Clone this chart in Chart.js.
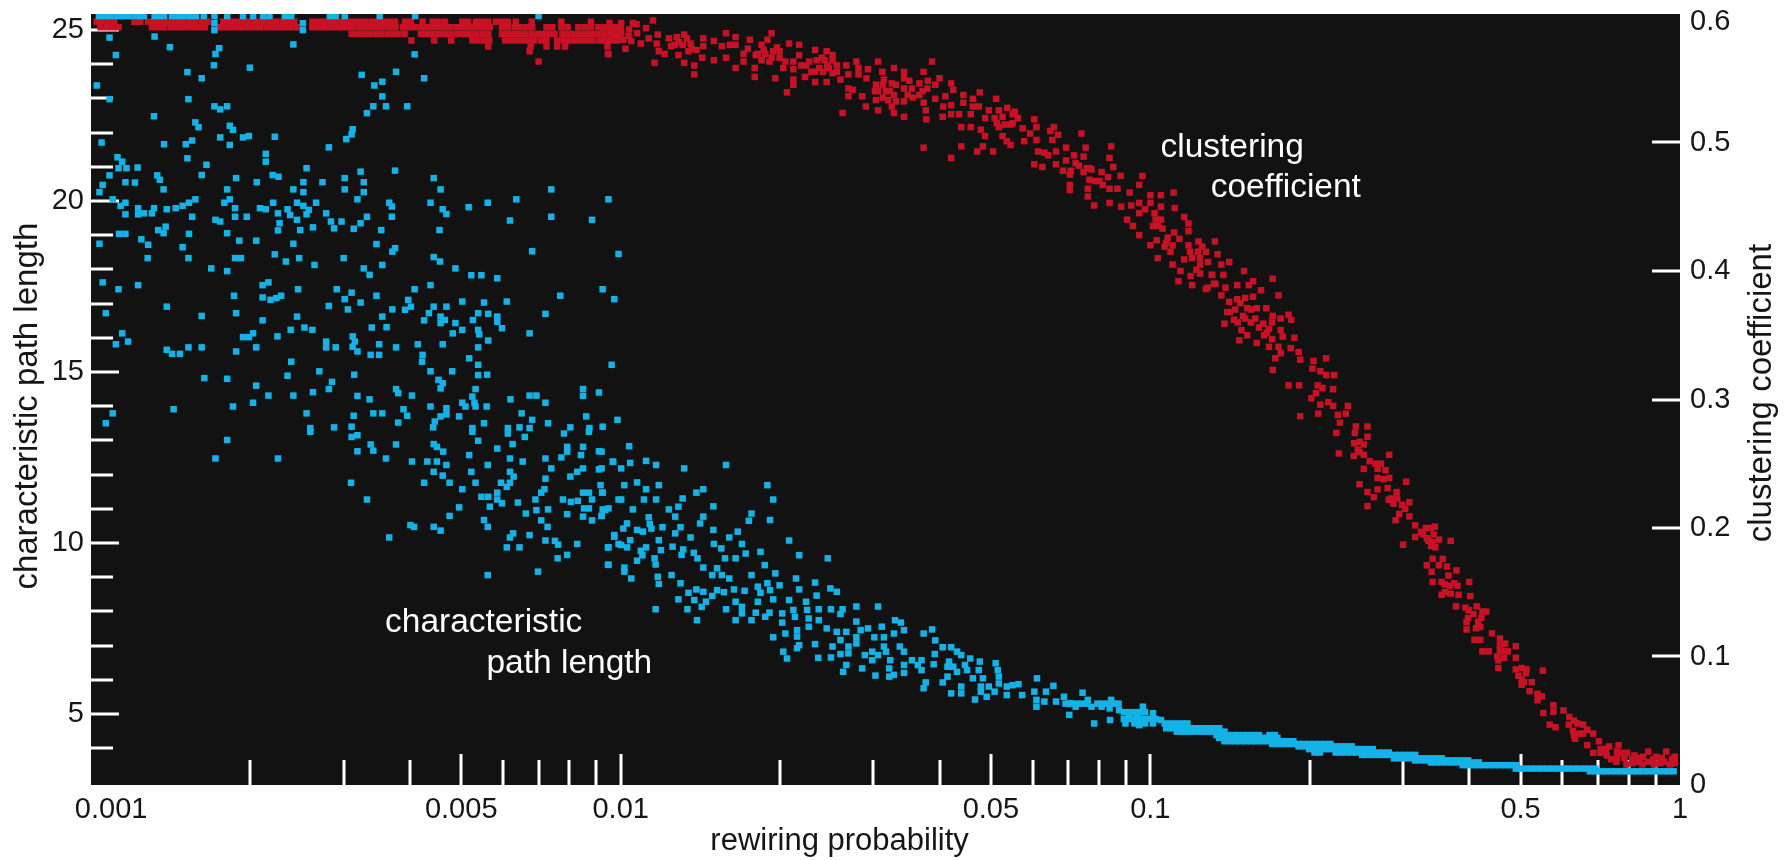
<!DOCTYPE html>
<html><head><meta charset="utf-8">
<script src="https://cdn.jsdelivr.net/npm/chart.js@4/dist/chart.umd.min.js"></script>
<style>html,body{margin:0;padding:0;background:#fff}canvas{display:block}</style>
</head><body>
<canvas id="c" width="1785" height="860"></canvas>
<script>
// First number = log10(rewiring probability).
const xLabelled = [0.001,0.005,0.01,0.05,0.1,0.5,1];
const xMinor = [0.002,0.003,0.004,0.006,0.007,0.008,0.009,0.02,0.03,0.04,0.06,0.07,0.08,0.09,0.2,0.3,0.4,0.6,0.7,0.8,0.9];
const pathTicks = [4,5,6,7,8,9,10,11,12,13,14,15,16,17,18,19,20,21,22,23,24,25];
const pathLabelled = [5,10,15,20,25];
const clusterTicks = [0,0.1,0.2,0.3,0.4,0.5,0.6];

// characteristic path length: rows [value, [log10 p ...]]
const pathRows = [
[25.41,[-2.985,-2.974,-2.963,-2.951,-2.94,-2.93,-2.918,-2.907,-2.9,-2.88,-2.87,-2.862,-2.847,-2.836,-2.825,-2.813,-2.802,-2.787,-2.767,-2.743,-2.713,-2.694,-2.675,-2.663,-2.634,-2.622,-2.549,-2.538,-2.521,-2.455,-2.388,-2.155]],
[25.2,[-2.767,-2.6]],[25.0,[-2.767,-2.6]],
[5.3,[-1.16,-1.15,-1.14,-1.13,-1.12,-1.1,-1.09,-1.08,-1.07,-1.06]],
[5.05,[-1.05,-1.04,-1.03,-1.02,-1.01]],
[4.85,[-1.05,-1.04,-1.03,-1.02,-1.01,-1.0,-.99]],
[4.72,[-1.03,-1.02,-1.01,-.973,-.962,-.951,-.94,-.93]],
[4.58,[-.97,-.96,-.95,-.94,-.93,-.92,-.91,-.9,-.89,-.88,-.87]],
[4.48,[-.95,-.94,-.93,-.92,-.91,-.9,-.89,-.88,-.87,-.86]],
[4.38,[-.875,-.865,-.855,-.845,-.835,-.825,-.815,-.805,-.795,-.775,-.765]],
[4.3,[-.87,-.86,-.85,-.84,-.83,-.82,-.81,-.8,-.79,-.78,-.77,-.76]],
[4.2,[-.86,-.85,-.84,-.83,-.82,-.81,-.8,-.79,-.78,-.77,-.76,-.75,-.74,-.73]],
[4.12,[-.77,-.76,-.75,-.74,-.73,-.72,-.71,-.7,-.69,-.68,-.67,-.66]],
[4.05,[-.72,-.71,-.7,-.69,-.68,-.67,-.66,-.65,-.64,-.63,-.62]],
[3.97,[-.7,-.69,-.68,-.67,-.66,-.65,-.64,-.63,-.62,-.61,-.6,-.59,-.58]],
[3.87,[-.69,-.68,-.65,-.64,-.63,-.62,-.61,-.6,-.59,-.58,-.57,-.56,-.55]],
[3.8,[-.6,-.59,-.58,-.57,-.56,-.55,-.54,-.53,-.52,-.51,-.5]],
[3.7,[-.54,-.53,-.52,-.51,-.5,-.49,-.48,-.47,-.46,-.45]],
[3.64,[-.5,-.49,-.48,-.47,-.46,-.45,-.44,-.43,-.42,-.41,-.4]],
[3.58,[-.47,-.46,-.45,-.44,-.43,-.42,-.41,-.4,-.39,-.38]],
[3.5,[-.41,-.4,-.39,-.38,-.37,-.36,-.35,-.34,-.33,-.32,-.31]],
[3.4,[-.31,-.3,-.29,-.28,-.27,-.26,-.25,-.24,-.23,-.22,-.21,-.2,-.19,-.18,-.17,-.16]],
[3.32,[-.17,-.16,-.15,-.14,-.13,-.12,-.11,-.1,-.09,-.08,-.07,-.06,-.05,-.04,-.03,-.02,-.012]]
];
const pathUpper = [[-2.965,24.78],[-2.88,24.81],[-2.851,24.5],[-2.758,24.47],[-2.765,24.3],[-2.618,24.58],[-2.953,24.27],[-2.389,24.29],[-2.768,23.97],[-2.7,23.9],[-2.818,23.77],[-2.791,23.59],[-2.989,23.38],[-2.489,23.69],[-2.424,23.78],[-2.371,23.59],[-2.465,23.38],[-2.45,23.49],[-2.45,23.06],[-2.965,22.98],[-2.816,22.98],[-2.467,22.77],[-2.443,22.77],[-2.403,22.77],[-2.767,22.77],[-2.743,22.77],[-2.756,22.68],[-2.479,22.57],[-2.881,22.48],[-2.803,22.3],[-2.797,22.16],[-2.738,22.2],[-2.732,22.08],[-2.506,22.1],[-2.508,21.95],[-2.518,21.81],[-2.756,21.86],[-2.713,21.86],[-2.702,21.9],[-2.653,21.88],[-2.98,21.71],[-2.862,21.66],[-2.821,21.66],[-2.809,21.77],[-2.738,21.64],[-2.551,21.57],[-2.95,21.28],[-2.941,21.15],[-2.818,21.25],[-2.67,21.38],[-2.67,21.15],[-2.782,21.06],[-2.948,20.96],[-2.933,20.96],[-2.912,20.98],[-2.593,20.96],[-2.491,20.86],[-2.426,20.89],[-2.965,20.75],[-2.875,20.75],[-2.87,20.62],[-2.791,20.76],[-2.726,20.67],[-2.657,20.76],[-2.646,20.71],[-2.353,20.67],[-2.935,20.55],[-2.917,20.54],[-2.687,20.55],[-2.599,20.55],[-2.563,20.55],[-2.521,20.67],[-2.485,20.55],[-2.978,20.47],[-2.984,20.26],[-2.863,20.34],[-2.743,20.34],[-2.618,20.34],[-2.599,20.26],[-2.521,20.34],[-2.485,20.26],[-2.34,20.34],[-2.131,20.34],[-2.959,20.05],[-2.803,20.05],[-2.738,20.05],[-2.497,20.05],[-2.197,20.05],[-2.023,20.05],[-2.944,19.86],[-2.935,19.95],[-2.911,19.79],[-2.9,19.64],[-2.885,19.64],[-2.881,19.79],[-2.857,19.76],[-2.84,19.79],[-2.827,19.86],[-2.815,19.95],[-2.935,19.61],[-2.911,19.61],[-2.809,19.54],[-2.748,19.95],[-2.728,19.79],[-2.728,19.54],[-2.706,19.54],[-2.681,19.79],[-2.67,19.76],[-2.656,19.95],[-2.647,19.64],[-2.629,19.76],[-2.624,19.59],[-2.611,19.95],[-2.599,19.86],[-2.589,19.74],[-2.593,19.61],[-2.575,19.95],[-2.556,19.64],[-2.437,19.95],[-2.432,19.84],[-2.359,19.95],[-2.336,19.76],[-2.329,19.62],[-2.287,19.82],[-2.251,19.95],[-2.479,19.54],[-2.432,19.54],[-2.209,19.43],[-2.131,19.54],[-2.054,19.45],[-2.765,19.45],[-2.756,19.4],[-2.611,19.45],[-2.644,19.35],[-2.547,19.4],[-2.527,19.4],[-2.491,19.35],[-2.581,19.23],[-2.541,19.2],[-2.647,19.14],[-2.605,19.15],[-2.504,19.19],[-2.452,19.15],[-2.342,19.15],[-2.873,19.15],[-2.859,19.25],[-2.863,19.06],[-2.947,19.04],[-2.935,19.04],[-2.815,19.04],[-2.743,19.06]];
const pathMiddle = [[-2.905,18.88],[-2.892,18.72],[-2.984,18.75],[-2.72,18.84],[-2.688,18.84],[-2.618,18.75],[-2.461,18.74],[-2.827,18.65],[-2.426,18.62],[-2.431,18.52],[-2.167,18.53],[-2.004,18.45],[-2.653,18.44],[-2.893,18.33],[-2.816,18.33],[-2.728,18.33],[-2.717,18.33],[-2.632,18.23],[-2.607,18.33],[-2.523,18.33],[-2.353,18.36],[-2.341,18.23],[-2.773,18.03],[-2.578,18.13],[-2.45,18.13],[-2.743,17.95],[-2.485,18.03],[-2.474,17.84],[-2.312,18.03],[-2.282,17.83],[-2.263,17.83],[-2.233,17.74],[-2.978,17.62],[-2.676,17.54],[-2.665,17.62],[-2.948,17.42],[-2.911,17.54],[-2.609,17.42],[-2.536,17.42],[-2.389,17.42],[-2.359,17.54],[-2.034,17.42],[-2.508,17.32],[-2.73,17.23],[-2.461,17.23],[-2.114,17.23],[-2.012,17.13],[-2.676,17.18],[-2.661,17.11],[-2.65,17.16],[-2.641,17.23],[-2.521,17.13],[-2.491,17.03],[-2.401,17.11],[-2.299,17.06],[-2.258,17.03],[-2.215,17.06],[-2.857,16.91],[-2.551,16.93],[-2.515,16.83],[-2.396,16.91],[-2.407,16.82],[-2.431,16.83],[-2.353,16.91],[-2.329,16.91],[-2.972,16.72],[-2.791,16.64],[-2.726,16.72],[-2.611,16.62],[-2.45,16.62],[-2.362,16.72],[-2.34,16.62],[-2.332,16.52],[-2.269,16.72],[-2.25,16.7],[-2.233,16.62],[-2.142,16.7],[-2.676,16.51],[-2.371,16.51],[-2.279,16.52],[-2.233,16.47],[-2.34,16.43],[-2.312,16.43],[-2.47,16.3],[-2.597,16.3],[-2.442,16.31],[-2.623,16.23],[-2.582,16.23],[-2.299,16.23],[-2.269,16.23],[-2.224,16.28],[-2.317,16.13],[-2.172,16.13],[-2.267,16.1],[-2.941,16.13],[-2.713,16.02],[-2.702,16.02],[-2.694,16.13],[-2.648,16.04],[-2.506,16.04],[-2.93,15.89],[-2.556,15.89],[-2.502,15.89],[-2.25,15.92],[-2.953,15.81],[-2.383,15.81],[-2.456,15.81],[-2.336,15.81],[-2.556,15.72],[-2.538,15.72],[-2.506,15.74],[-2.497,15.6],[-2.816,15.72],[-2.791,15.72],[-2.688,15.72],[-2.424,15.72],[-2.269,15.72],[-2.857,15.65],[-2.847,15.53],[-2.832,15.53],[-2.726,15.6],[-2.472,15.5],[-2.456,15.5],[-2.374,15.5],[-2.375,15.3],[-2.622,15.3],[-2.286,15.4],[-2.269,15.21],[-2.017,15.21],[-2.569,15.02],[-2.359,15.02],[-2.318,15.02],[-2.503,14.92],[-2.629,14.89],[-2.269,14.91],[-2.252,14.92],[-2.786,14.82],[-2.743,14.8],[-2.545,14.71],[-2.344,14.77],[-2.336,14.67],[-2.688,14.6],[-2.34,14.52],[-2.551,14.5],[-2.424,14.5],[-2.274,14.5],[-2.071,14.5],[-2.581,14.41],[-2.665,14.31],[-2.618,14.31],[-2.497,14.3],[-2.394,14.31],[-2.42,14.38],[-2.071,14.3],[-2.041,14.4],[-2.172,14.31],[-2.159,14.31],[-2.474,14.2],[-2.694,14.1],[-2.208,14.2],[-2.28,14.28],[-2.276,14.1],[-2.299,14.1],[-2.142,14.1],[-2.732,13.99],[-2.844,13.91],[-2.359,13.99],[-2.41,13.91],[-2.329,13.94],[-2.293,13.99],[-2.274,13.99],[-2.253,13.99],[-2.959,13.79],[-2.593,13.79],[-2.467,13.79],[-2.45,13.79],[-2.504,13.72],[-2.403,13.72],[-2.329,13.76],[-2.34,13.7],[-2.305,13.7],[-2.187,13.79],[-2.167,13.6],[-2.065,13.7],[-2.006,13.6],[-2.972,13.5],[-2.42,13.52],[-2.351,13.55],[-2.258,13.5],[-2.137,13.5],[-2.354,13.38],[-2.586,13.36],[-2.541,13.38],[-2.508,13.4],[-2.28,13.36],[-2.213,13.36],[-2.191,13.38],[-2.172,13.36],[-2.095,13.38],[-2.059,13.36],[-2.034,13.4]];
const pathLower = [[-2.743,13.01],[-2.586,13.25],[-2.508,13.1],[-2.497,13.15],[-2.28,13.25],[-2.213,13.2],[-2.181,13.1],[-2.107,13.2],[-2.06,13.25],[-2.424,12.88],[-2.472,12.88],[-2.353,12.89],[-2.269,12.99],[-2.204,12.89],[-2.233,12.76],[-2.347,12.81],[-2.101,12.81],[-2.071,12.81],[-2.497,12.68],[-2.467,12.7],[-2.335,12.67],[-2.101,12.67],[-2.041,12.68],[-2.075,12.57],[-2.286,12.57],[-2.765,12.47],[-2.647,12.47],[-2.443,12.47],[-2.209,12.47],[-2.142,12.47],[-2.112,12.5],[-2.394,12.38],[-2.365,12.38],[-2.347,12.38],[-2.185,12.38],[-2.015,12.38],[-2.329,12.28],[-2.251,12.28],[-2.131,12.18],[-2.071,12.18],[-2.082,12.08],[-2.041,12.15],[-2.353,12.08],[-2.282,12.08],[-2.209,12.08],[-2.336,11.97],[-2.202,11.94],[-2.095,11.94],[-2.142,11.88],[-2.509,11.76],[-2.371,11.76],[-2.323,11.76],[-2.274,11.76],[-2.226,11.76],[-2.209,11.76],[-2.215,11.64],[-2.299,11.57],[-2.144,11.57],[-2.038,11.69],[-2.15,11.47],[-2.071,11.47],[-2.06,11.47],[-2.035,11.47],[-2.233,11.47],[-2.263,11.35],[-2.25,11.35],[-2.233,11.27],[-2.479,11.27],[-2.161,11.27],[-2.109,11.27],[-2.054,11.27],[-2.004,11.27],[-2.224,11.16],[-2.247,11.06],[-2.194,11.18],[-2.094,11.2],[-2.081,11.23],[-2.069,11.01],[-2.305,11.04],[-2.137,10.98],[-2.159,10.96],[-2.06,11.01],[-2.034,10.98],[-2.023,11.01],[-2.179,10.86],[-2.101,10.84],[-2.071,10.77],[-2.323,10.79],[-2.036,10.79],[-2.15,10.66],[-2.054,10.66],[-2.258,10.67],[-2.397,10.52],[-2.39,10.47],[-2.353,10.47],[-2.34,10.36],[-2.251,10.47],[-2.138,10.47],[-2.203,10.28],[-2.209,10.16],[-2.172,10.23],[-2.437,10.16],[-2.012,10.23],[-2.142,10.07],[-2.124,10.06],[-2.118,9.95],[-2.082,9.97],[-2.215,9.87],[-2.191,9.87],[-2.023,9.87],[-2.004,9.97],[-2.101,9.65],[-2.119,9.55],[-2.023,9.36],[-2.156,9.16],[-2.251,9.06]];
const pathRight = [[-1.984,12.83],[-2.036,12.67],[-2.014,12.37],[-1.999,12.18],[-1.982,12.34],[-1.952,12.4],[-1.933,12.28],[-1.88,12.18],[-1.801,12.28],[-2.036,12.18],[-1.993,11.69],[-1.969,11.77],[-1.952,11.57],[-1.928,11.69],[-1.844,11.57],[-1.857,11.47],[-1.723,11.69],[-2.034,11.47],[-1.999,11.27],[-1.956,11.27],[-1.933,11.27],[-1.883,11.3],[-1.891,11.06],[-1.712,11.27],[-1.825,11.07],[-1.977,10.98],[-1.909,10.98],[-2.029,10.96],[-2.036,10.79],[-1.897,10.77],[-1.844,10.77],[-1.753,10.86],[-1.758,10.65],[-1.718,10.67],[-1.85,10.57],[-1.947,10.75],[-1.988,10.57],[-1.945,10.55],[-1.969,10.38],[-1.958,10.33],[-1.942,10.42],[-1.921,10.46],[-1.887,10.46],[-1.897,10.28],[-1.995,10.42],[-1.825,10.38],[-1.779,10.33],[-1.795,10.16],[-2.012,10.18],[-1.982,10.08],[-1.928,10.08],[-1.868,10.16],[-1.682,10.07],[-2.024,9.87],[-1.999,9.94],[-1.988,9.87],[-1.952,9.87],[-1.962,9.77],[-1.924,9.79],[-1.902,9.89],[-1.882,9.81],[-1.885,9.65],[-1.862,9.71],[-1.855,9.55],[-1.824,9.97],[-1.81,9.84],[-1.771,9.97],[-1.764,9.69],[-1.736,9.74],[-1.803,9.55],[-1.783,9.55],[-1.663,9.64],[-1.609,9.55],[-1.959,9.64],[-1.969,9.48],[-1.936,9.55],[-1.934,9.37],[-2.024,9.36],[-1.993,9.28],[-1.993,9.16],[-1.98,8.96],[-1.844,9.28],[-1.818,9.26],[-1.728,9.35],[-1.827,9.06],[-1.809,9.06],[-1.795,8.96],[-1.753,9.06],[-1.708,9.11],[-1.93,9.01],[-1.904,9.06],[-1.669,8.96],[-1.928,8.8],[-1.887,8.82],[-1.723,8.82],[-1.7,8.76],[-1.633,8.84],[-1.741,8.72],[-1.872,8.54],[-1.857,8.64],[-1.844,8.57],[-1.818,8.62],[-1.805,8.56],[-1.786,8.64],[-1.766,8.6],[-1.736,8.54],[-1.718,8.62],[-1.663,8.64],[-1.604,8.67],[-1.592,8.57],[-1.891,8.35],[-1.861,8.33],[-1.839,8.28],[-1.827,8.45],[-1.712,8.35],[-1.63,8.46],[-1.741,8.28],[-1.783,8.28],[-1.682,8.33],[-1.65,8.28],[-1.555,8.14],[-1.514,8.14],[-1.874,8.06],[-1.847,8.13],[-1.934,8.06],[-1.801,8.06],[-1.771,8.13],[-1.745,7.96],[-1.719,7.96],[-1.695,7.94],[-1.674,8.04],[-1.648,8.04],[-1.626,8.06],[-1.603,8.06],[-1.581,8.06],[-1.783,7.74],[-1.771,7.94],[-1.753,7.74],[-1.856,7.74],[-1.695,7.67],[-1.671,7.84],[-1.727,7.84],[-1.645,7.79],[-1.626,7.74],[-1.585,7.92],[-1.555,7.7],[-1.482,7.74],[-1.471,7.67],[-1.507,7.55],[-1.667,7.45],[-1.645,7.55],[-1.611,7.5],[-1.592,7.4],[-1.574,7.4],[-1.547,7.45],[-1.533,7.5],[-1.484,7.35],[-1.465,7.45],[-1.428,7.35],[-1.412,7.47],[-1.712,7.24],[-1.689,7.35],[-1.667,7.26],[-1.555,7.24],[-1.521,7.24],[-1.503,7.24],[-1.585,7.16],[-1.406,7.15],[-1.663,7.01],[-1.633,7.04],[-1.6,6.97],[-1.57,6.97],[-1.555,7.06],[-1.503,6.97],[-1.473,6.97],[-1.392,6.95],[-1.376,6.95],[-1.667,6.92],[-1.693,6.82],[-1.465,6.82],[-1.57,6.77],[-1.585,6.75],[-1.603,6.65],[-1.627,6.64],[-1.686,6.62],[-1.525,6.82],[-1.539,6.72],[-1.514,6.72],[-1.499,6.82],[-1.407,6.75],[-1.365,6.82],[-1.357,6.72],[-1.34,6.62],[-1.525,6.57],[-1.45,6.57],[-1.432,6.57],[-1.38,6.53],[-1.322,6.53],[-1.491,6.57],[-1.465,6.43],[-1.439,6.43],[-1.409,6.45],[-1.383,6.38],[-1.372,6.38],[-1.35,6.43],[-1.292,6.48],[-1.574,6.43],[-1.544,6.33],[-1.493,6.33],[-1.432,6.28],[-1.365,6.23],[-1.346,6.28],[-1.324,6.28],[-1.288,6.28],[-1.58,6.23],[-1.465,6.2],[-1.519,6.12],[-1.493,6.09],[-1.484,6.14],[-1.383,6.09],[-1.335,6.04],[-1.316,6.04],[-1.286,6.09],[-1.214,6.04],[-1.392,5.92],[-1.424,5.92],[-1.428,5.75],[-1.357,5.8],[-1.32,5.8],[-1.305,5.8],[-1.286,5.89],[-1.271,5.8],[-1.26,5.84],[-1.249,5.87],[-1.183,5.82],[-1.376,5.6],[-1.357,5.6],[-1.32,5.65],[-1.294,5.65],[-1.271,5.55],[-1.242,5.55],[-1.219,5.65],[-1.197,5.65],[-1.128,5.62],[-1.331,5.42],[-1.309,5.5],[-1.215,5.41],[-1.2,5.36],[-1.215,5.21],[-1.178,5.36],[-1.163,5.5],[-1.152,5.31],[-1.141,5.21],[-1.153,4.97],[-1.118,5.41],[-1.111,5.21],[-1.092,5.21],[-1.074,5.41],[-1.077,5.16],[-1.059,5.11],[-1.076,4.82],[-1.106,4.72],[-1.04,4.92],[-1.025,5.02],[-1.014,5.21],[-1.021,4.67],[-1.047,4.72],[-.995,5.02],[-.995,4.72],[-.98,4.82]];

// clustering coefficient: rows [value, [log10 p ...]]
const clusterRows = [
[.594,[-2.989,-2.978,-2.967,-2.956,-2.918,-2.907,-2.892,-2.881,-2.87,-2.859,-2.847,-2.836,-2.825,-2.814,-2.803,-2.791,-2.78,-2.75,-2.739,-2.728,-2.717,-2.706,-2.694,-2.683,-2.672,-2.661,-2.65,-2.638,-2.627,-2.616,-2.582,-2.571,-2.56,-2.549,-2.538,-2.526,-2.515,-2.504,-2.493,-2.482,-2.47,-2.459,-2.448,-2.437,-2.426,-2.407,-2.396,-2.374,-2.355,-2.344,-2.332,-2.299,-2.288,-2.273,-2.262,-2.25,-2.235,-2.224,-2.213,-2.198,-2.168,-2.112,-2.056]],
[.5897,[-2.982,-2.97,-2.959,-2.948,-2.885,-2.874,-2.863,-2.85,-2.84,-2.828,-2.817,-2.806,-2.795,-2.785,-2.758,-2.747,-2.736,-2.725,-2.714,-2.702,-2.69,-2.68,-2.668,-2.657,-2.646,-2.635,-2.624,-2.612,-2.582,-2.571,-2.56,-2.549,-2.537,-2.526,-2.515,-2.504,-2.492,-2.481,-2.47,-2.459,-2.448,-2.436,-2.425,-2.411,-2.4,-2.389,-2.377,-2.366,-2.355,-2.344,-2.333,-2.322,-2.31,-2.299,-2.288,-2.277,-2.266,-2.255,-2.247,-2.224,-2.213,-2.2,-2.19,-2.178,-2.167,-2.14,-2.129,-2.112,-2.1,-2.08,-2.068,-2.056,-2.042,-2.03,-2.02,-2.01]],
[.5845,[-2.508,-2.497,-2.486,-2.475,-2.463,-2.452,-2.44,-2.43,-2.42,-2.408,-2.377,-2.366,-2.355,-2.344,-2.333,-2.322,-2.31,-2.299,-2.29,-2.283,-2.272,-2.26,-2.25,-2.224,-2.213,-2.202,-2.191,-2.18,-2.168,-2.157,-2.146,-2.135,-2.125,-2.11,-2.1,-2.088,-2.077,-2.066,-2.055,-2.044,-2.033,-2.022,-2.011,-2.0]],
[.5794,[-2.395,-2.352,-2.32,-2.28,-2.27,-2.258,-2.248,-2.218,-2.207,-2.196,-2.185,-2.174,-2.163,-2.15,-2.14,-2.12,-2.108,-2.097,-2.086,-2.075,-2.064,-2.053,-2.04,-2.03,-2.018,-2.007]],
[.5747,[-2.25,-2.17,-2.14,-2.12,-2.105,-2.025]],
[.571,[-2.172]],[.5687,[-2.023]],[.563,[-2.155]]
];
const clusterShoulder = [[-2.033,.588],[-2.021,.593],[-1.999,.593],[-1.977,.593],[-2.029,.58],[-2.014,.588],[-1.999,.586],[-1.984,.588],[-1.969,.585],[-1.952,.589],[-1.939,.595],[-2.01,.581],[-1.995,.58],[-1.98,.579],[-1.962,.577],[-1.947,.581],[-2.024,.569],[-1.991,.573],[-1.93,.584],[-1.932,.577],[-1.928,.571],[-1.936,.562],[-1.917,.569],[-1.909,.581],[-1.894,.582],[-1.88,.584],[-1.898,.576],[-1.883,.576],[-1.868,.577],[-1.891,.568],[-1.872,.571],[-1.857,.572],[-1.88,.562],[-1.861,.56],[-1.861,.553],[-1.844,.581],[-1.844,.575],[-1.846,.566],[-1.824,.579],[-1.824,.564],[-1.801,.585],[-1.809,.575],[-1.794,.576],[-1.783,.582],[-1.783,.576],[-1.801,.566],[-1.783,.558],[-1.768,.563],[-1.756,.58],[-1.76,.573],[-1.768,.569],[-1.734,.576],[-1.741,.569],[-1.727,.569],[-1.712,.571],[-1.7,.571],[-1.715,.585],[-1.723,.58],[-1.719,.563],[-1.747,.558],[-1.747,.551],[-1.734,.564],[-1.682,.577],[-1.663,.576],[-1.663,.568],[-1.689,.563],[-1.674,.563],[-1.633,.572],[-1.611,.571],[-1.693,.558],[-1.674,.557],[-1.659,.56],[-1.644,.563],[-1.63,.564],[-1.615,.564],[-1.6,.564],[-1.592,.56],[-1.708,.55],[-1.674,.549],[-1.652,.551],[-1.633,.555],[-1.618,.555],[-1.607,.558],[-1.592,.555],[-1.686,.539],[-1.674,.545],[-1.633,.547],[-1.611,.547],[-1.585,.549],[-1.574,.56],[-1.555,.563],[-1.551,.558],[-1.533,.557],[-1.57,.553],[-1.551,.553],[-1.536,.55],[-1.57,.542],[-1.562,.541],[-1.57,.536],[-1.544,.536],[-1.537,.528],[-1.581,.523],[-1.514,.563],[-1.484,.558],[-1.506,.555],[-1.518,.545],[-1.503,.549],[-1.488,.546],[-1.514,.54],[-1.499,.54],[-1.484,.537],[-1.518,.533],[-1.495,.533],[-1.488,.528],[-1.514,.525],[-1.484,.523],[-1.465,.555],[-1.465,.55],[-1.428,.555],[-1.465,.542],[-1.45,.542],[-1.436,.546],[-1.421,.542],[-1.406,.545],[-1.458,.537],[-1.436,.537],[-1.465,.532],[-1.428,.531],[-1.465,.52],[-1.424,.525],[-1.423,.518],[-1.412,.563],[-1.398,.55],[-1.406,.534],[-1.387,.536],[-1.376,.546],[-1.372,.541],[-1.391,.528],[-1.376,.529],[-1.392,.52],[-1.376,.522],[-1.361,.522],[-1.353,.537],[-1.335,.534],[-1.322,.539],[-1.353,.531],[-1.335,.528],[-1.324,.528],[-1.339,.522],[-1.357,.512],[-1.339,.512],[-1.291,.534],[-1.312,.519],[-1.294,.519],[-1.279,.52],[-1.26,.522],[-1.286,.525],[-1.256,.524],[-1.32,.51],[-1.312,.505],[-1.286,.512],[-1.264,.514],[-1.428,.496],[-1.357,.497],[-1.376,.488],[-1.327,.493],[-1.316,.497],[-1.297,.493]];
const clusterSlope = [[-1.271,.501],[-1.264,.498],[-1.279,.505],[-1.241,.511],[-1.238,.501],[-1.227,.507],[-1.215,.512],[-1.215,.502],[-1.219,.518],[-1.212,.493],[-1.2,.492],[-1.189,.509],[-1.182,.512],[-1.185,.502],[-1.174,.506],[-1.219,.483],[-1.204,.481],[-1.193,.49],[-1.178,.493],[-1.178,.483],[-1.159,.496],[-1.159,.486],[-1.144,.49],[-1.141,.484],[-1.122,.496],[-1.126,.489],[-1.152,.475],[-1.152,.467],[-1.152,.463],[-1.13,.507],[-1.126,.477],[-1.111,.479],[-1.092,.477],[-1.115,.471],[-1.096,.47],[-1.077,.488],[-1.07,.481],[-1.074,.497],[-1.118,.464],[-1.118,.458],[-1.077,.464],[-1.062,.464],[-1.056,.474],[-1.077,.453],[-1.106,.451],[-1.015,.474],[-1.021,.467],[-1.039,.461],[-1.0,.459],[-.98,.459],[-.956,.461],[-1.055,.45],[-1.036,.451],[-1.021,.453],[-1.021,.445],[-1.044,.44],[-1.033,.435],[-1.021,.428],[-1.0,.453],[-1.01,.448],[-.992,.445],[-.98,.44],[-.995,.435],[-.977,.433],[-.954,.449],[-.936,.442],[-.928,.437],[-.928,.431],[-.99,.44],[-.985,.435],[-.98,.45],[-1.0,.42],[-.988,.424],[-.967,.426],[-.973,.419],[-.958,.42],[-.962,.415],[-.928,.42],[-.909,.423],[-.902,.419],[-.878,.423],[-.986,.41],[-.958,.405],[-.936,.409],[-.921,.41],[-.906,.41],[-.906,.405],[-.891,.407],[-.943,.4],[-.924,.396],[-.906,.398],[-.947,.392],[-.921,.389],[-.895,.386],[-.883,.397],[-.88,.39],[-.913,.401],[-.873,.413],[-.851,.407],[-.866,.405],[-.884,.397],[-.862,.397],[-.892,.387],[-.877,.39],[-.866,.381],[-.858,.387],[-.836,.389],[-.823,.4],[-.814,.389],[-.806,.392],[-.791,.385],[-.769,.394],[-.758,.381],[-.851,.376],[-.836,.378],[-.821,.379],[-.806,.38],[-.855,.368],[-.817,.371],[-.799,.371],[-.781,.371],[-.769,.365],[-.754,.363],[-.739,.366],[-.734,.362],[-.86,.359],[-.842,.362],[-.821,.363],[-.802,.363],[-.787,.359],[-.776,.355],[-.78,.352],[-.754,.354],[-.828,.354],[-.817,.35],[-.832,.346],[-.799,.344],[-.75,.349],[-.728,.348],[-.776,.341],[-.758,.341],[-.735,.34],[-.72,.337],[-.764,.332],[-.717,.331],[-.754,.336],[-.769,.323],[-.692,.33],[-.668,.332],[-.694,.324],[-.679,.322],[-.668,.319],[-.653,.319],[-.739,.311],[-.719,.311],[-.684,.311],[-.675,.309],[-.655,.308],[-.696,.301],[-.687,.305],[-.664,.298],[-.679,.296],[-.683,.289],[-.655,.295],[-.717,.287],[-.646,.288],[-.627,.295],[-.631,.289],[-.642,.282],[-.612,.279],[-.59,.279]];
const clusterTail = [[-.649,.274],[-.614,.274],[-.605,.267],[-.597,.265],[-.608,.261],[-.597,.257],[-.644,.258],[-.616,.256],[-.549,.257],[-.586,.252],[-.565,.25],[-.597,.246],[-.571,.246],[-.556,.245],[-.549,.239],[-.571,.239],[-.517,.236],[-.605,.234],[-.59,.228],[-.571,.23],[-.552,.231],[-.578,.224],[-.545,.223],[-.534,.223],[-.541,.219],[-.511,.22],[-.59,.217],[-.519,.215],[-.53,.211],[-.511,.209],[-.537,.206],[-.5,.202],[-.489,.197],[-.47,.2],[-.463,.201],[-.5,.193],[-.478,.192],[-.467,.189],[-.455,.191],[-.433,.19],[-.523,.187],[-.47,.186],[-.467,.176],[-.448,.176],[-.478,.171],[-.455,.171],[-.44,.17],[-.422,.167],[-.469,.166],[-.437,.163],[-.467,.158],[-.444,.156],[-.426,.157],[-.398,.158],[-.444,.15],[-.433,.149],[-.418,.148],[-.396,.147],[-.423,.139],[-.399,.136],[-.384,.139],[-.373,.135],[-.366,.135],[-.403,.127],[-.381,.127],[-.377,.123],[-.403,.121],[-.355,.118],[-.34,.114],[-.388,.113],[-.377,.113],[-.34,.109],[-.31,.108],[-.373,.104],[-.361,.104],[-.336,.104],[-.325,.104],[-.343,.097],[-.332,.099],[-.31,.099],[-.343,.091],[-.259,.089],[-.299,.091],[-.291,.087],[-.299,.082],[-.299,.078],[-.284,.073],[-.269,.071],[-.269,.066],[-.261,.069],[-.239,.062],[-.239,.057],[-.22,.058],[-.209,.053],[-.258,.056],[-.246,.047],[-.235,.045],[-.194,.048],[-.183,.047],[-.202,.042],[-.183,.04],[-.198,.036],[-.164,.04],[-.175,.031],[-.153,.034],[-.164,.025],[-.134,.03],[-.116,.031],[-.138,.023],[-.119,.026],[-.105,.021],[-.086,.023],[-.09,.017],[-.06,.026],[-.045,.022],[-.026,.026],[-.015,.02],[-.06,.018],[-.037,.017],[-.071,.016],[-.019,.016],[-.075,.021],[-.119,.021],[-.101,.016],[-.049,.016],[-.034,.021]];
// solid blobs of overlapping marks along the clustering curve
const clusterBlobs = [[-2.018,.586],[-2.0,.59],[-1.985,.583],[-1.97,.592],[-2.005,.583],[-1.905,.575],[-1.89,.578],[-1.875,.581],[-1.866,.573],[-1.745,.568],[-1.73,.572],[-1.715,.566],[-1.7,.566],[-1.705,.574],[-1.65,.56],[-1.64,.555],[-1.625,.558],[-1.61,.56],[-1.6,.554],[-1.62,.566],[-1.6,.568],[-1.52,.54],[-1.505,.545],[-1.505,.535],[-1.492,.54],[-1.48,.545],[-1.48,.532],[-1.455,.548],[-1.448,.535],[-1.43,.54],[-1.42,.548],[-1.305,.525],[-1.29,.515],[-1.275,.514],[-1.26,.515],[-1.25,.519],[-1.27,.527],[-1.15,.478],[-1.135,.482],[-1.12,.48],[-1.165,.478],[-1.105,.47],[-1.09,.467],[-1.08,.473],[-1.115,.48],[-.97,.422],[-.955,.43],[-.945,.425],[-.925,.415],[-.91,.415],[-.895,.415],[-.85,.368],[-.84,.37],[-.83,.375],[-.825,.365],[-.81,.36],[-.795,.356],[-.835,.36],[-.81,.37],[-.785,.35],[-.77,.347],[-.77,.36],[-.615,.266],[-.605,.259],[-.59,.271],[-.575,.25],[-.56,.238],[-.55,.222],[-.535,.228],[-.525,.218],[-.485,.195],[-.475,.19],[-.465,.195],[-.48,.2],[-.462,.185],[-.45,.158],[-.435,.155],[-.45,.148],[-.42,.155],[-.4,.13],[-.39,.133],[-.385,.122],[-.375,.13],[-.405,.138],[-.34,.105],[-.33,.11],[-.345,.1],[-.31,.09],[-.305,.085],[-.29,.09],[-.295,.08],[-.28,.08],[-.21,.047],[-.2,.05],[-.19,.04],[-.175,.043],[-.2,.038],[-.15,.025],[-.14,.028],[-.13,.02],[-.11,.025],[-.1,.025],[-.09,.02],[-.15,.028],[-.12,.018],[-.08,.018],[-.07,.022],[-.05,.02],[-.03,.018],[-.01,.017],[-.01,.022]];

const toPoint = ([e, v]) => ({x: Math.pow(10, e), y: v});
const expand = rows => rows.flatMap(([v, es]) => es.map(e => [e, v]));
const pathData = [...expand(pathRows), ...pathUpper, ...pathMiddle, ...pathLower, ...pathRight].map(toPoint);
const clusterData = [...expand(clusterRows), ...clusterShoulder, ...clusterSlope, ...clusterTail, ...clusterBlobs].map(toPoint);

const WHITE = '#ffffff', INK = '#161616', PLOT = '#121212';
const FONT = '"Liberation Sans", Arial, sans-serif';

const frame = {
  id: 'frame',
  beforeDatasetsDraw(chart) {
    const {ctx, chartArea: a, scales} = chart;
    ctx.save();
    ctx.fillStyle = PLOT;
    ctx.fillRect(a.left, a.top, a.right - a.left, a.bottom - a.top);
    ctx.strokeStyle = WHITE;
    ctx.lineWidth = 3;
    ctx.beginPath();
    scales.y.ticks.forEach(t => {
      const p = Math.round(scales.y.getPixelForValue(t.value));
      ctx.moveTo(a.left, p);
      ctx.lineTo(a.left + (pathLabelled.includes(t.value) ? 28 : 22), p);
    });
    scales.y1.ticks.forEach(t => {
      if (t.value === 0 || t.value === 0.6) return;
      const p = Math.round(scales.y1.getPixelForValue(t.value));
      ctx.moveTo(a.right, p);
      ctx.lineTo(a.right - 28, p);
    });
    scales.x.ticks.forEach(t => {
      if (t.value === 0.001 || t.value === 1) return;
      const p = Math.round(scales.x.getPixelForValue(t.value));
      ctx.moveTo(p, a.bottom);
      ctx.lineTo(p, a.bottom - (xLabelled.includes(t.value) ? 31 : 25));
    });
    ctx.stroke();
    ctx.restore();
  },
  afterDraw(chart) {
    const {ctx, scales} = chart;
    ctx.save();
    // axis titles come from the scale options
    ctx.fillStyle = INK;
    ctx.textAlign = 'center';
    ctx.textBaseline = 'middle';
    ctx.font = '31px ' + FONT;
    ctx.fillText(scales.x.options.title.text, scales.x.getPixelForValue(0.0259), 841);
    ctx.font = '33px ' + FONT;
    ctx.translate(28, scales.y.getPixelForValue(14.0));
    ctx.rotate(-Math.PI / 2);
    ctx.fillText(scales.y.options.title.text, 0, 0);
    ctx.restore();
    ctx.save();
    ctx.fillStyle = INK;
    ctx.textAlign = 'center';
    ctx.textBaseline = 'middle';
    ctx.font = '33px ' + FONT;
    ctx.translate(1762, scales.y1.getPixelForValue(0.305));
    ctx.rotate(-Math.PI / 2);
    ctx.fillText(scales.y1.options.title.text, 0, 0);
    ctx.restore();
    // curve labels, anchored in data units
    ctx.save();
    ctx.fillStyle = WHITE;
    ctx.textAlign = 'left';
    ctx.textBaseline = 'middle';
    ctx.font = '33.5px ' + FONT;
    [['clustering',0.1045,21.55],['coefficient',0.13,20.38],['characteristic',0.00359,7.66],['path length',0.00558,6.46]]
      .forEach(([s, p, v]) => ctx.fillText(s, scales.x.getPixelForValue(p), scales.y.getPixelForValue(v)));
    ctx.restore();
  }
};

new Chart(document.getElementById('c'), {
  type: 'scatter',
  plugins: [frame],
  data: {datasets: [
    {label: 'characteristic path length', data: pathData, yAxisID: 'y', order: 0,
     backgroundColor: '#14B2E6', pointStyle: 'rect', pointRadius: 4.6, pointBorderWidth: 0, borderWidth: 0},
    {label: 'clustering coefficient', data: clusterData, yAxisID: 'y1', order: 1,
     backgroundColor: '#C61224', pointStyle: 'rect', pointRadius: 4.6, pointBorderWidth: 0, borderWidth: 0}
  ]},
  options: {
    responsive: false,
    animation: false,
    events: [],
    layout: {padding: {top: 14, left: 0, right: 0, bottom: 0}},
    plugins: {legend: {display: false}, tooltip: {enabled: false}, title: {display: false}},
    scales: {
      x: {
        type: 'logarithmic', min: 0.001, max: 1,
        title: {display: false, text: 'rewiring probability'},
        grid: {display: false, drawTicks: false}, border: {display: false},
        afterBuildTicks: s => { s.ticks = [...xLabelled, ...xMinor].sort((a, b) => a - b).map(value => ({value})); },
        afterFit: s => { s.height = 75; s.paddingLeft = 0; s.paddingRight = 0; },
        ticks: {
          autoSkip: false, maxRotation: 0, minRotation: 0, padding: 8, color: INK,
          font: {family: FONT, size: 29},
          callback: v => v === 0.001 ? '     0.001' : (xLabelled.includes(v) ? String(v) : '')
        }
      },
      y: {
        position: 'left', min: 2.92, max: 25.47,
        title: {display: false, text: 'characteristic path length'},
        grid: {display: false, drawTicks: false}, border: {display: false},
        afterBuildTicks: s => { s.ticks = pathTicks.map(value => ({value})); },
        afterFit: s => { s.width = 91; s.paddingTop = 0; s.paddingBottom = 0; },
        ticks: {
          autoSkip: false, padding: 7, color: INK, font: {family: FONT, size: 29},
          callback: v => pathLabelled.includes(v) ? String(v) : ''
        }
      },
      y1: {
        position: 'right', min: 0, max: 0.6,
        title: {display: false, text: 'clustering coefficient'},
        grid: {display: false, drawTicks: false}, border: {display: false},
        afterBuildTicks: s => { s.ticks = clusterTicks.map(value => ({value})); },
        afterFit: s => { s.width = 105; s.paddingTop = 0; s.paddingBottom = 0; },
        ticks: {
          autoSkip: false, padding: 10, color: INK, font: {family: FONT, size: 29, lineHeight: '16px'},
          callback: v => v === 0.6 ? ['', '0.6'] : String(v)
        }
      }
    }
  }
});
</script>
</body></html>
